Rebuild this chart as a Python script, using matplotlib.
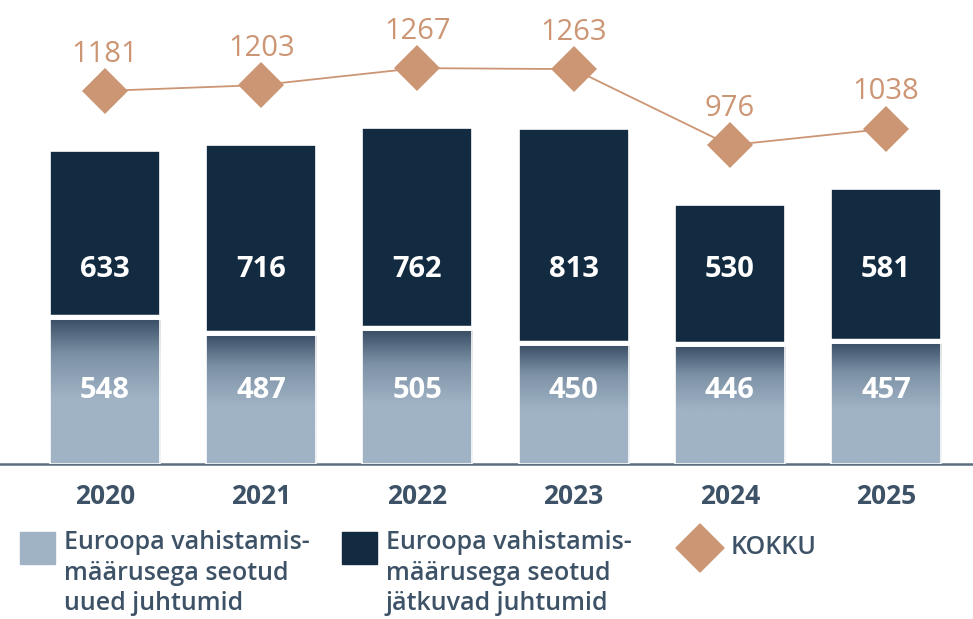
import numpy as np
import matplotlib
matplotlib.use("Agg")
import matplotlib.pyplot as plt
from matplotlib.colors import LinearSegmentedColormap
from matplotlib.patches import Rectangle, Polygon

plt.rcParams['font.family'] = ['Open Sans', 'DejaVu Sans']

years = ['2020', '2021', '2022', '2023', '2024', '2025']
new_cases = [548, 487, 505, 450, 446, 457]
cont_cases = [633, 716, 762, 813, 530, 581]
totals = [1181, 1203, 1267, 1263, 976, 1038]

dark = '#132b40'
light = '#a0b3c5'
tan = '#cc9574'
txt = '#3d5266'

W, H = 973, 619
fig = plt.figure(figsize=(W / 100, H / 100), dpi=100)
ax = fig.add_axes([0, (H - 464) / H, 1, 464 / H])
x = np.arange(len(years))
ymax = 464 / 0.265

# gradient for the lower segments: dark at top, fading to light
cmap = LinearSegmentedColormap.from_list(
    'g', list(zip([0, 0.45, 0.75, 1.0], [light, light, '#7d91a6', '#394e65'])))
grad = np.linspace(0, 1, 256).reshape(-1, 1)

bw = 0.705
lower = ax.bar(x, new_cases, width=bw, facecolor='none', edgecolor='white',
               linewidth=1.2, zorder=3)
for b in lower:
    x0, y0 = b.get_x(), b.get_y()
    im = ax.imshow(grad, cmap=cmap, origin='lower', aspect='auto',
                   extent=(x0, x0 + b.get_width(), y0, y0 + b.get_height()),
                   zorder=2)
    im.set_clip_path(b)
upper = ax.bar(x, cont_cases, bottom=new_cases, width=bw, color=dark,
               edgecolor='white', linewidth=1.2, zorder=3)
# white gap between the two segments
ax.hlines(np.array(new_cases) + 8, x - bw / 2 - 0.01, x + bw / 2 + 0.01,
          color='white', linewidth=3.2, zorder=4)
ax.set_xlim(-105 / 156.2, (W - 105) / 156.2)
ax.set_ylim(0, ymax)

# value labels sit on fixed rows
for i in range(len(years)):
    ax.text(x[i], 277, str(new_cases[i]), ha='center', va='center',
            color='white', fontsize=21, fontweight='bold', zorder=5)
    ax.text(x[i], 734, str(cont_cases[i]), ha='center', va='center',
            color='white', fontsize=21, fontweight='bold', zorder=5)

# totals on a shifted twin axis
ax2 = ax.twinx()
ax2.set_ylim(-227, ymax - 227)
ax2.plot(x, totals, color=tan, linewidth=1.3, marker='D', markersize=23,
         markeredgewidth=0, zorder=4)
for i in range(len(years)):
    ax2.annotate(str(totals[i]), (x[i], totals[i]), xytext=(0, 26.5),
                 textcoords='offset points', ha='center', va='center',
                 color=tan, fontsize=21, fontweight='medium')

for a in (ax, ax2):
    for s in a.spines.values():
        s.set_visible(False)
    a.set_yticks([])
ax.spines['bottom'].set_visible(True)
ax.spines['bottom'].set_color('#5c6d7e')
ax.spines['bottom'].set_linewidth(1.8)
ax.set_xticks(x)
ax.set_xticklabels(years, fontsize=19, fontweight='bold', color=txt)
ax.tick_params(axis='x', length=0, pad=14)

# legend drawn by hand in figure pixels
def fx(px):
    return px / W

def fy(py):
    return 1 - py / H

fig.patches.append(Rectangle((fx(20), fy(564)), fx(35), 32 / H, color=light,
                             transform=fig.transFigure))
fig.patches.append(Rectangle((fx(342), fy(564)), fx(35), 32 / H, color=dark,
                             transform=fig.transFigure))
cx, cy, r = 700, 548, 24
fig.patches.append(Polygon([(fx(cx - r), fy(cy)), (fx(cx), fy(cy - r)),
                            (fx(cx + r), fy(cy)), (fx(cx), fy(cy + r))],
                           closed=True, color=tan, transform=fig.transFigure))
leg_kw = dict(fontsize=18, fontweight='semibold', color=txt, va='top',
              ha='left', linespacing=1.29)
fig.text(fx(64), fy(530), 'Euroopa vahistamis-\nmäärusega seotud\nuued juhtumid', **leg_kw)
fig.text(fx(386), fy(530), 'Euroopa vahistamis-\nmäärusega seotud\njätkuvad juhtumid', **leg_kw)
fig.text(fx(731), fy(548), 'KOKKU', fontsize=18, fontweight='semibold',
         color=txt, va='center', ha='left')

fig.savefig('out.png', dpi=100)
